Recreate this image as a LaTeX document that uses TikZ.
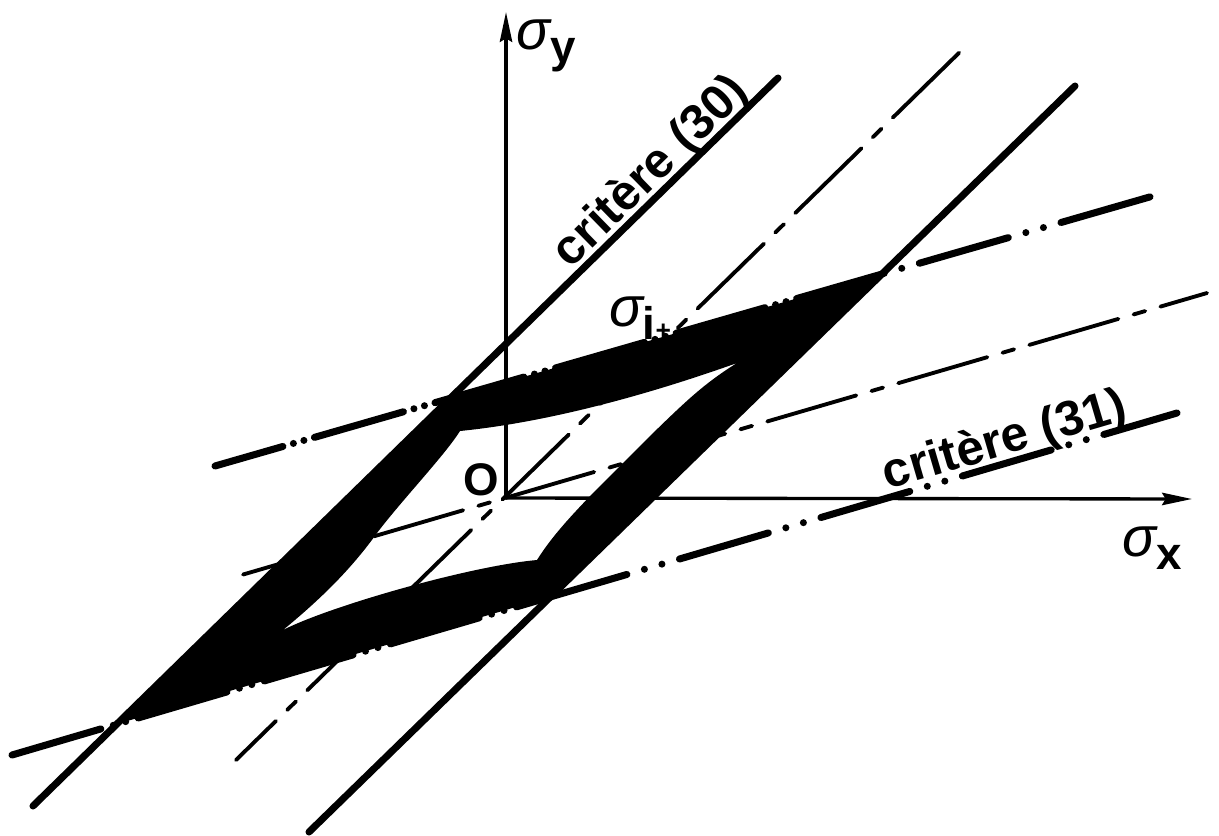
\documentclass[tikz,border=0pt]{standalone}
\usepackage{fontspec}
\setmainfont{Liberation Sans}
\newfontfamily\critfont{Liberation Sans}
\usepackage{tikz}
\usetikzlibrary{arrows.meta}
\definecolor{inkblack}{HTML}{000000}
\newcommand\sigmasub[1]{{\fontsize{32}{32}\selectfont\itshape\mdseries σ}\raisebox{-0.3em}{\bfseries #1}}

\begin{document}
\begin{tikzpicture}[x=0.02cm, y=-0.02cm, >=Stealth,
    axis/.style={line width=1.9pt, inkblack, -{Stealth[length=17pt, width=7pt, inset=2pt]}},
    critline/.style={line width=4pt, inkblack, line cap=round},
    ddline/.style={line width=4pt, inkblack, line cap=round, dash pattern=on 52.7pt off #1 on 0pt off #1 on 0pt off #1},
    ddline/.default=10.4pt,
    thindash/.style={line width=2.2pt, inkblack, line cap=round, dash pattern=on 52.8pt off 9pt on 6.9pt off 9pt},
    lbl/.style={font=\fontsize{26}{28}\selectfont\bfseries, inner sep=0pt},
    crit/.style={sloped, anchor=base, inner sep=0pt, font=\critfont\fontsize{28}{30}\selectfont\bfseries}]
  \useasboundingbox (0,0) rectangle (1219,835);
  \coordinate (O) at (506,498);
  \coordinate (ytip) at (506,12);
  \coordinate (xtip) at (1192,499);
  \coordinate (A1) at (33,806);   \coordinate (A2) at (778,78);
  \coordinate (B1) at (309,832);  \coordinate (B2) at (1075,86);
  \coordinate (D1) at (236,760);  \coordinate (D2) at (965,47);
  \coordinate (E1) at (238,576);  \coordinate (E2) at (1207,293);
  \coordinate (F1) at (215,466);  \coordinate (F2) at (1160,194);
  \coordinate (G1) at (12,755);   \coordinate (G2) at (1177,413);
  \coordinate (P1) at (450,398);  \coordinate (P2) at (882,274);
  \coordinate (P3) at (550,597);  \coordinate (P4) at (117,724);
  \coordinate (H1) at (460,431);  \coordinate (H2) at (737,363);
  \coordinate (H3) at (537,560);  \coordinate (H4) at (283,630);

  \draw[thindash, dash phase=21pt] (D1) -- (D2);
  \draw[thindash, dash phase=74.7pt] (E1) -- (E2);
  \draw[axis] (O) -- (ytip);
  \draw[axis] (O) -- (xtip);
  \node[lbl] (si) at (640,318) {\sigmasub{i{\fontsize{15}{15}\selectfont+}}};

  \fill[inkblack, even odd rule] (P1) -- (P2) -- (P3) -- (P4) -- cycle
    (H1) .. controls (550,422) and (650,394) .. (H2)
    .. controls (705,383) and (688,399) .. (650,436) -- (592,494)
    .. controls (572,515) and (552,536) .. (H3)
    .. controls (470,566) and (330,606) .. (H4)
    .. controls (322,598) and (352,568) .. (377,533)
    .. controls (402,500) and (445,455) .. (H1) -- cycle;

  \draw[critline] (A1) -- node[crit, pos=0.85] {\raisebox{4.5pt}{critère (30)}} (A2);
  \draw[critline] (B1) -- (B2);
  \draw[ddline=6.23pt, dash phase=12.5pt] (F1) -- (P2);
  \draw[ddline, dash phase=61.8pt] (P2) -- (F2);
  \draw[ddline=7.37pt] (G1) -- (P3);
  \draw[ddline, dash phase=7.1pt] (P3) -- node[crit, pos=0.735] {\raisebox{4.5pt}{critère (31)}} (G2);

  \node[lbl] (sy) at (546,46) {\sigmasub{y}};
  \node[lbl] (sx) at (1152,548) {\sigmasub{x}};
  \node[lbl] (o) at (481,480) {O};
\end{tikzpicture}
\end{document}
